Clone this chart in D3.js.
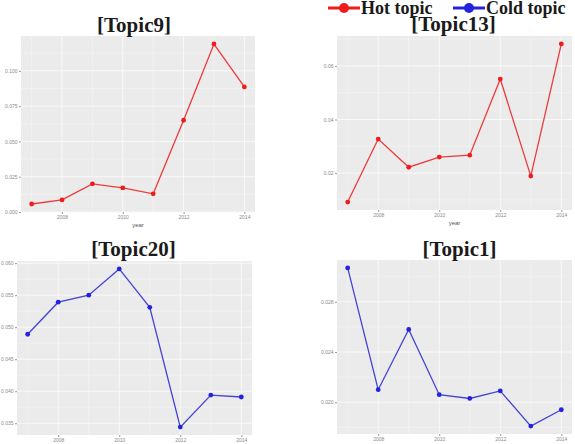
<!DOCTYPE html>
<html>
<head>
<meta charset="utf-8">
<script src="https://cdn.jsdelivr.net/npm/d3@7"></script>
<style>
  body { margin: 0; background: #fff; }
  svg { display: block; }
  .tick text { fill: #8a8a8a; font-family: "Liberation Sans", Arial, sans-serif; }
  .tick line { stroke: #999; }
  .title { font-family: "Liberation Serif", "Times New Roman", serif; font-weight: bold; fill: #1a1a1a; }
</style>
</head>
<body>
<svg id="chart" width="575" height="444"></svg>
<script>

const years = [2007, 2008, 2009, 2010, 2011, 2012, 2013, 2014];
const yearTicks = [2008, 2010, 2012, 2014];

const topic9 = [0.0057, 0.0086, 0.0200, 0.0171, 0.0129, 0.0650, 0.1190, 0.0886];
const topic13 = [0.0092, 0.0327, 0.0222, 0.0260, 0.0267, 0.0551, 0.0189, 0.0682];
const topic20 = [0.0489, 0.0539, 0.0550, 0.0591, 0.0531, 0.0344, 0.0394, 0.0391];
const topic1 = [0.0307, 0.0210, 0.0258, 0.0206, 0.0203, 0.0209, 0.0181, 0.0194];

const ticks9 = [0, 0.025, 0.05, 0.075, 0.1];
const ticks13 = [0.02, 0.04, 0.06];
const ticks20 = [0.035, 0.04, 0.045, 0.05, 0.055, 0.06];
const ticks1 = [0.020, 0.024, 0.028];

const legendItems = ['Hot topic', 'Cold topic'];

const hotColor = {line: '#ee3a3a', point: '#ee1c1c'};
const coldColor = {line: '#4444d6', point: '#2323dd'};

// panel boxes: left, right, top, bottom (px)
const panels = [
    {title: '[Topic9]', values: topic9, ticks: ticks9, fmt: '.3f', col: hotColor,
     x0: 21, x1: 255, y0: 36, y1: 212, titleY: 32, titleDx: -4, xlab: true},
    {title: '[Topic13]', values: topic13, ticks: ticks13, fmt: '.2f', col: hotColor,
     x0: 337, x1: 572, y0: 36, y1: 210, titleY: 31, titleDx: -1, xlab: true},
    {title: '[Topic20]', values: topic20, ticks: ticks20, fmt: '.3f', col: coldColor,
     x0: 17, x1: 252, y0: 261, y1: 435, titleY: 256, titleDx: -1, xlab: false},
    {title: '[Topic1]', values: topic1, ticks: ticks1, fmt: '.3f', col: coldColor,
     x0: 337, x1: 572, y0: 260, y1: 434, titleY: 256, titleDx: 5, xlab: false}
];

const svg = d3.select('#chart');

panels.forEach(p => {
    const data = years.map((y, i) => ({year: y, value: p.values[i]}));

    // ggplot-like 5% expansion
    const xExt = d3.extent(years);
    const xPad = (xExt[1] - xExt[0]) * 0.05;
    const xScale = d3.scaleLinear()
        .domain([xExt[0] - xPad, xExt[1] + xPad])
        .range([p.x0, p.x1]);

    const yExt = d3.extent(p.values);
    const yPad = (yExt[1] - yExt[0]) * 0.05;
    const yScale = d3.scaleLinear()
        .domain([yExt[0] - yPad, yExt[1] + yPad])
        .range([p.y1, p.y0]);

    const g = svg.append('g');

    g.append('rect')
        .attr('x', p.x0).attr('y', p.y0)
        .attr('width', p.x1 - p.x0).attr('height', p.y1 - p.y0)
        .attr('fill', '#ebebeb');

    // minor grid
    const xMinor = [2007, 2009, 2011, 2013];
    const step = p.ticks[1] - p.ticks[0];
    const yMinor = [];
    for (let v = p.ticks[0] - step / 2; v <= yScale.domain()[1]; v += step) {
        if (v >= yScale.domain()[0]) yMinor.push(v);
    }

    g.selectAll('.xminor').data(xMinor).enter().append('line')
        .attr('x1', d => xScale(d)).attr('x2', d => xScale(d))
        .attr('y1', p.y0).attr('y2', p.y1)
        .attr('stroke', '#f6f6f6').attr('stroke-width', 0.5);
    g.selectAll('.yminor').data(yMinor).enter().append('line')
        .attr('x1', p.x0).attr('x2', p.x1)
        .attr('y1', d => yScale(d)).attr('y2', d => yScale(d))
        .attr('stroke', '#f6f6f6').attr('stroke-width', 0.5);

    // major grid
    g.selectAll('.xmajor').data(yearTicks).enter().append('line')
        .attr('x1', d => xScale(d)).attr('x2', d => xScale(d))
        .attr('y1', p.y0).attr('y2', p.y1)
        .attr('stroke', '#fafafa').attr('stroke-width', 0.9);
    g.selectAll('.ymajor').data(p.ticks).enter().append('line')
        .attr('x1', p.x0).attr('x2', p.x1)
        .attr('y1', d => yScale(d)).attr('y2', d => yScale(d))
        .attr('stroke', '#fafafa').attr('stroke-width', 0.9);

    // axes
    const yAxis = g.append('g')
        .attr('transform', `translate(${p.x0},0)`)
        .call(d3.axisLeft(yScale).tickValues(p.ticks).tickFormat(d3.format(p.fmt))
            .tickSize(2).tickPadding(1.5));
    yAxis.select('.domain').remove();
    yAxis.selectAll('text').attr('font-size', 5);

    const xAxis = g.append('g')
        .attr('transform', `translate(0,${p.y1})`)
        .call(d3.axisBottom(xScale).tickValues(yearTicks).tickFormat(d3.format('d'))
            .tickSize(2).tickPadding(1));
    xAxis.select('.domain').remove();
    xAxis.selectAll('text').attr('font-size', 5);

    if (p.xlab) {
        g.append('text')
            .attr('x', (p.x0 + p.x1) / 2).attr('y', p.y1 + 15)
            .attr('text-anchor', 'middle')
            .attr('font-family', '"Liberation Sans", Arial, sans-serif')
            .attr('font-size', 6).attr('fill', '#555')
            .text('year');
    }

    // series
    const line = d3.line()
        .x(d => xScale(d.year))
        .y(d => yScale(d.value));

    g.append('path')
        .datum(data)
        .attr('d', line)
        .attr('fill', 'none')
        .attr('stroke', p.col.line)
        .attr('stroke-width', 1.3);

    g.selectAll('.pt').data(data).enter().append('circle')
        .attr('cx', d => xScale(d.year))
        .attr('cy', d => yScale(d.value))
        .attr('r', 2.4)
        .attr('fill', p.col.point);

    g.append('text')
        .attr('class', 'title')
        .attr('x', (p.x0 + p.x1) / 2 + p.titleDx)
        .attr('y', p.titleY)
        .attr('text-anchor', 'middle')
        .attr('font-size', 21)
        .text(p.title);
});

// legend
const legendScale = d3.scaleOrdinal()
    .domain(legendItems)
    .range([[hotColor.point, 328], [coldColor.point, 453]]);

const leg = svg.append('g');
legendItems.forEach(k => {
    const [c, lx] = legendScale(k);
    leg.append('line')
        .attr('x1', lx).attr('x2', lx + 32)
        .attr('y1', 8).attr('y2', 8)
        .attr('stroke', c).attr('stroke-width', 3);
    leg.append('circle')
        .attr('cx', lx + 16).attr('cy', 8).attr('r', 5)
        .attr('fill', c);
    leg.append('text')
        .attr('class', 'title')
        .attr('x', lx + 33).attr('y', 14)
        .attr('font-size', 18)
        .text(k);
});

</script>
</body>
</html>
